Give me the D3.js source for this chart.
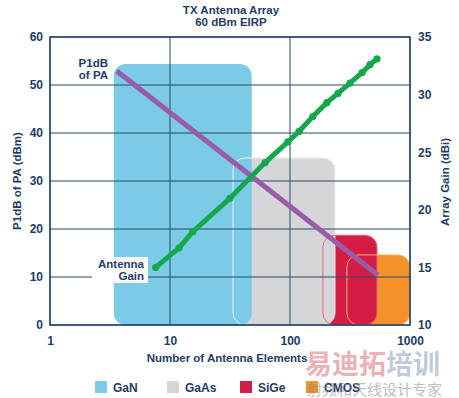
<!DOCTYPE html>
<html>
<head>
<meta charset="utf-8">
<script src="https://cdn.jsdelivr.net/npm/d3@7"></script>
<style>
  body { margin: 0; background: #fff; }
  text { font-family: "Liberation Sans", Arial, sans-serif; font-weight: bold; fill: #1e3c66; }
</style>
</head>
<body>
<div id="chart"></div>
<script>
// technology regions (N range and P1dB top)
const techNames = ["GaN", "GaAs", "SiGe", "CMOS"];
const techColors = ["#7ccbe6", "#d6d6d8", "#d31d45", "#f4922a"];
const techOutline = ["#7ccbe6", "#eeeeef", "#e5637d", "#f9b36a"];
const techNmin = [3.4, 33.5, 188, 298];
const techNmax = [48, 237, 531, 1000];
const techTop = [54.4, 34.8, 18.7, 14.6];

// P1dB of PA line (left axis)
const paN = [3.6, 540];
const paP1dB = [52.9, 10.4];

// antenna gain points (right axis)
const gainN = [7.6, 11.9, 15.5, 31.6, 62, 96, 119, 155, 203, 251, 316, 398, 464, 531];
const gainDbi = [15.0, 16.7, 18.1, 21.0, 24.1, 25.9, 26.8, 28.1, 29.3, 30.1, 31.0, 31.9, 32.6, 33.1];

const leftTicks = [0, 10, 20, 30, 40, 50, 60];
const rightTicks = [10, 15, 20, 25, 30, 35];
const xTicks = [1, 10, 100, 1000];

const width = 459, height = 398;
const navy = "#27466c";

const svg = d3.select("#chart").append("svg")
    .attr("width", width)
    .attr("height", height);

const x = d3.scaleLog().domain([1, 1000]).range([50, 410]);
const yL = d3.scaleLinear().domain([0, 60]).range([325, 37]);
const yR = d3.scaleLinear().domain([10, 35]).range([325, 37]);

// title
svg.append("text").attr("x", 231).attr("y", 14).attr("text-anchor", "middle")
    .style("font-size", "11.5px").text("TX Antenna Array");
svg.append("text").attr("x", 231).attr("y", 26).attr("text-anchor", "middle")
    .style("font-size", "11.5px").text("60 dBm EIRP");

// region fills, right ones underneath
const regions = techNames.map((n, i) => ({ i, name: n }));
const gRegions = svg.append("g");
regions.slice().reverse().forEach(d => {
    gRegions.append("rect")
        .attr("x", x(techNmin[d.i]))
        .attr("y", yL(techTop[d.i]))
        .attr("width", x(techNmax[d.i]) - x(techNmin[d.i]))
        .attr("height", yL(0) - yL(techTop[d.i]))
        .attr("rx", 12).attr("ry", 12)
        .attr("fill", techColors[d.i]);
});
// outlines of the hidden parts
regions.slice(1).forEach(d => {
    gRegions.append("rect")
        .attr("x", x(techNmin[d.i]))
        .attr("y", yL(techTop[d.i]))
        .attr("width", x(techNmax[d.i]) - x(techNmin[d.i]))
        .attr("height", yL(0) - yL(techTop[d.i]))
        .attr("rx", 12).attr("ry", 12)
        .attr("fill", "none")
        .attr("stroke", techOutline[d.i])
        .attr("stroke-width", 1);
});

// grid
const grid = svg.append("g").attr("stroke", navy).attr("stroke-width", 1);
leftTicks.forEach(t => {
    grid.append("line").attr("x1", 50).attr("x2", 410)
        .attr("y1", yL(t)).attr("y2", yL(t));
});
xTicks.forEach(t => {
    grid.append("line").attr("x1", x(t)).attr("x2", x(t))
        .attr("y1", 37).attr("y2", 325);
});
svg.append("rect").attr("x", 50).attr("y", 37).attr("width", 360).attr("height", 288)
    .attr("fill", "none").attr("stroke", navy).attr("stroke-width", 1.5);

// axes
const axL = d3.axisLeft(yL).tickValues(leftTicks).tickSize(0).tickPadding(7);
const axR = d3.axisRight(yR).tickValues(rightTicks).tickSize(0).tickPadding(8);
const axB = d3.axisBottom(x).tickValues(xTicks).tickFormat(d3.format("d")).tickSize(0).tickPadding(11);
[svg.append("g").attr("transform", "translate(50,0)").call(axL),
 svg.append("g").attr("transform", "translate(410,0)").call(axR),
 svg.append("g").attr("transform", "translate(0,325)").call(axB)].forEach(g => {
    g.select(".domain").remove();
    g.selectAll("text").style("font-size", "12px").attr("fill", "#1e3c66")
        .style("font-family", "'Liberation Sans', Arial, sans-serif").style("font-weight", "bold");
});

svg.append("text").attr("transform", "translate(21,181) rotate(-90)")
    .attr("text-anchor", "middle").style("font-size", "11.5px").text("P1dB of PA (dBm)");
svg.append("text").attr("transform", "translate(449,182) rotate(-90)")
    .attr("text-anchor", "middle").style("font-size", "11.5px").text("Array Gain (dBi)");
svg.append("text").attr("x", 227).attr("y", 362).attr("text-anchor", "middle")
    .style("font-size", "11.5px").text("Number of Antenna Elements");

// P1dB line
svg.append("line")
    .attr("x1", x(paN[0])).attr("y1", yL(paP1dB[0]))
    .attr("x2", x(paN[1])).attr("y2", yL(paP1dB[1]))
    .attr("stroke", "#9a5ba8").attr("stroke-width", 5);

// gain line
const gainPts = gainN.map((n, i) => [x(n), yR(gainDbi[i])]);
svg.append("path").attr("d", d3.line()(gainPts))
    .attr("fill", "none").attr("stroke", "#14a84c").attr("stroke-width", 5)
    .attr("stroke-linecap", "round");
svg.append("g").selectAll("circle").data(gainPts).enter().append("circle")
    .attr("cx", d => d[0]).attr("cy", d => d[1]).attr("r", 3.6)
    .attr("fill", "#14a84c");

// line labels
svg.append("text").attr("x", 108).attr("y", 67).attr("text-anchor", "end")
    .style("font-size", "11.5px").text("P1dB");
svg.append("text").attr("x", 108).attr("y", 79).attr("text-anchor", "end")
    .style("font-size", "11.5px").text("of PA");
svg.append("rect").attr("x", 92).attr("y", 257).attr("width", 56).attr("height", 26).attr("fill", "#fff");
svg.append("text").attr("x", 144).attr("y", 268).attr("text-anchor", "end")
    .style("font-size", "11.5px").text("Antenna");
svg.append("text").attr("x", 144).attr("y", 280).attr("text-anchor", "end")
    .style("font-size", "11.5px").text("Gain");

// legend
const legX = [95, 167, 240, 306];
regions.forEach(d => {
    svg.append("rect").attr("x", legX[d.i]).attr("y", 381).attr("width", 12).attr("height", 12)
        .attr("fill", techColors[d.i]);
    svg.append("text").attr("x", legX[d.i] + 18).attr("y", 392)
        .style("font-size", "12px").text(d.name);
});

// watermark
const wm = svg.append("g").style("opacity", 0.55);
wm.append("text").attr("x", 305).attr("y", 374)
    .style("font-family", "'Noto Sans CJK SC', sans-serif").style("font-size", "27px")
    .style("fill", "#e0707c").text("易迪拓");
wm.append("text").attr("x", 386).attr("y", 374)
    .style("font-family", "'Noto Sans CJK SC', sans-serif").style("font-size", "27px")
    .style("fill", "#8fa0bd").text("培训");
wm.append("text").attr("x", 307).attr("y", 395)
    .style("font-family", "'Noto Sans CJK SC', sans-serif").style("font-size", "15px")
    .style("font-weight", "normal").style("fill", "#888").text("射频和天线设计专家");
</script>
</body>
</html>
